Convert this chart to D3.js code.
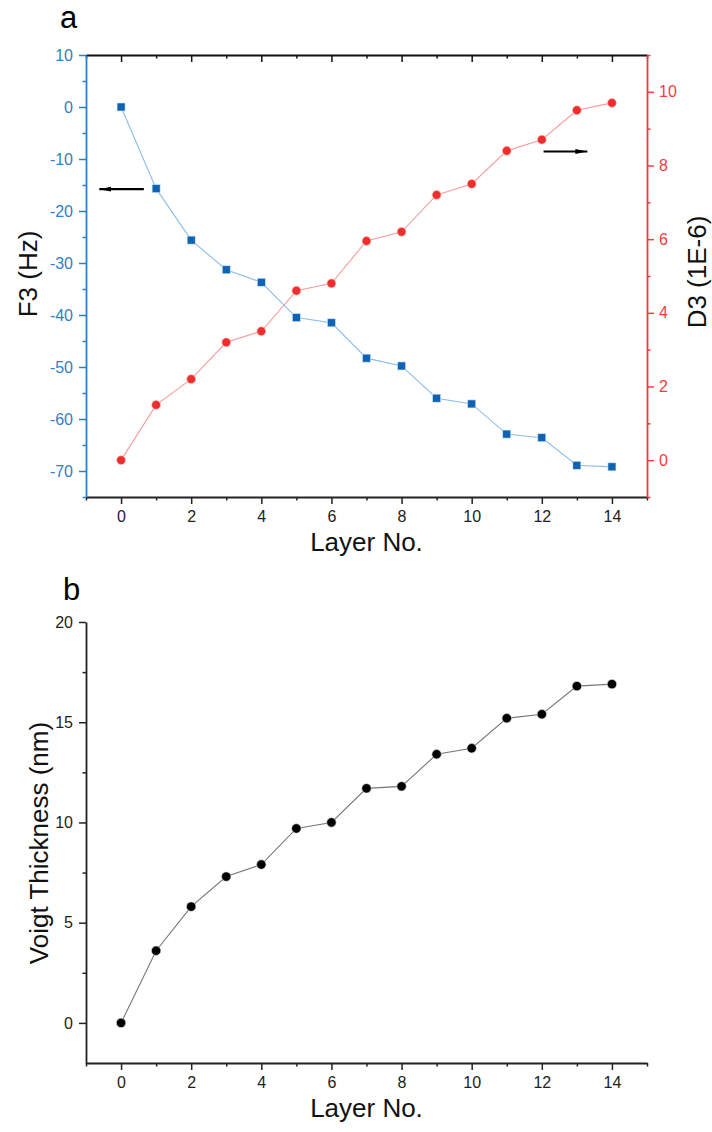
<!DOCTYPE html>
<html>
  <head>
    <meta charset="utf-8">
    <title>F3, D3 and Voigt thickness by layer</title>
    <script src="https://d3js.org/d3.v7.min.js"></script>
    <style>
      body { margin: 0; background: white; }
      svg { display: block; font-family: "Liberation Sans", Arial, sans-serif; }
    </style>
  </head>
  <body>
    <svg id="chart" width="712" height="1132"></svg>
    <script>
      // data
      const layers = [0, 1, 2, 3, 4, 5, 6, 7, 8, 9, 10, 11, 12, 13, 14];
      const f3 = [0, -15.7, -25.6, -31.3, -33.7, -40.5, -41.5, -48.3, -49.8, -56.0, -57.1, -62.9, -63.6, -68.9, -69.2];
      const d3Shift = [0, 1.5, 2.2, 3.2, 3.5, 4.6, 4.8, 5.95, 6.2, 7.2, 7.5, 8.4, 8.7, 9.5, 9.7];
      const thickness = [0, 3.6, 5.8, 7.3, 7.9, 9.7, 10.0, 11.7, 11.8, 13.4, 13.7, 15.2, 15.4, 16.8, 16.9];
      // ticks
      const xTicks = [0, 2, 4, 6, 8, 10, 12, 14];
      const xMinor = [-1, 1, 3, 5, 7, 9, 11, 13, 15];
      const f3Ticks = [-70, -60, -50, -40, -30, -20, -10, 0, 10];
      const f3Minor = [-75, -65, -55, -45, -35, -25, -15, -5, 5];
      const d3Ticks = [0, 2, 4, 6, 8, 10];
      const d3Minor = [-1, 1, 3, 5, 7, 9, 11];
      const thickTicks = [0, 5, 10, 15, 20];
      const thickMinor = [2.5, 7.5, 12.5, 17.5];

      const blue = "#2f80c8", blueMark = "#0f63b3", blueLine = "#8dbde6";
      const red = "#f23c3c", redMark = "#ee2e2e", redLine = "#f59c9c";

      svg = d3.select("#chart");
      top_ = { left: 86, right: 647, top: 55, bottom: 497 };
      bot = { left: 86, right: 647, top: 622, bottom: 1063 };

      // arrow marker
      svg.append("defs")
        .append("marker")
          .attr("id", "head")
          .attr("viewBox", "0 0 12 6")
          .attr("refX", 12)
          .attr("refY", 3)
          .attr("markerWidth", 12)
          .attr("markerHeight", 6)
          .attr("markerUnits", "userSpaceOnUse")
          .attr("orient", "auto")
        .append("path")
          .attr("d", "M0,0.6 L12,3 L0,5.4 Z")
          .attr("fill", "black");

      // draws one axis with major + minor ticks
      function drawAxis(g, maker, scale, ticks, minor, colour, labels, pad) {
        g.append("g")
          .call(maker(scale).tickValues(minor).tickSize(3.5).tickFormat(""))
          .call(s => s.select(".domain").remove())
          .selectAll("line").attr("stroke", colour).attr("stroke-width", 1.5);
        let major = g.append("g")
          .call(maker(scale).tickValues(ticks).tickSize(7).tickSizeOuter(0).tickPadding(pad)
            .tickFormat(labels ? (d => String(d)) : ""));
        major.attr("font-size", 16)
          .attr("font-family", "Liberation Sans, Arial, sans-serif");
        major.select(".domain").attr("stroke", colour).attr("stroke-width", 1.8);
        major.selectAll("line").attr("stroke", colour).attr("stroke-width", 1.5);
        major.selectAll("text")
          .attr("fill", colour)
          .style("font-size", "16px");
        return major;
      }

      // ---------- panel a ----------
      x = d3.scaleLinear().domain([-1, 15]).range([top_.left, top_.right]);
      yF = d3.scaleLinear().domain([-75, 10]).range([top_.bottom, top_.top]);
      yD = d3.scaleLinear().domain([-1, 11]).range([top_.bottom, top_.top]);

      // top mirror axis, ticks inward
      drawAxis(svg.append("g").attr("transform", "translate(0," + top_.top + ")"),
        d3.axisBottom, x, xTicks, xMinor, "#111", false, 0);
      drawAxis(svg.append("g").attr("transform", "translate(0," + top_.bottom + ")"),
        d3.axisBottom, x, xTicks, xMinor, "#222", true, 7);
      drawAxis(svg.append("g").attr("transform", "translate(" + top_.left + ",0)"),
        d3.axisLeft, yF, f3Ticks, f3Minor, blue, true, 6);
      drawAxis(svg.append("g").attr("transform", "translate(" + top_.right + ",0)"),
        d3.axisRight, yD, d3Ticks, d3Minor, red, true, 5);

      // lines
      svg.append("path")
        .datum(layers)
        .attr("fill", "none")
        .attr("stroke", redLine)
        .attr("stroke-width", 1.1)
        .attr("d", d3.line().x(d => x(d)).y((d, i) => yD(d3Shift[i])));
      svg.append("path")
        .datum(layers)
        .attr("fill", "none")
        .attr("stroke", blueLine)
        .attr("stroke-width", 1.1)
        .attr("d", d3.line().x(d => x(d)).y((d, i) => yF(f3[i])));

      // markers
      svg.append("g")
        .selectAll("circle")
          .data(layers)
        .enter().append("circle")
          .attr("cx", d => x(d))
          .attr("cy", (d, i) => yD(d3Shift[i]))
          .attr("r", 4.4)
          .attr("fill", redMark)
          .attr("stroke", "#fbb")
          .attr("stroke-width", 0.6);
      svg.append("g")
        .selectAll("rect")
          .data(layers)
        .enter().append("rect")
          .attr("x", d => x(d) - 4)
          .attr("y", (d, i) => yF(f3[i]) - 4)
          .attr("width", 8)
          .attr("height", 8)
          .attr("fill", blueMark)
          .attr("stroke", "#cfe3f5")
          .attr("stroke-width", 0.6);

      // arrows pointing at the axis each series belongs to
      svg.append("line")
        .attr("x1", x(0.65)).attr("x2", x(-0.62))
        .attr("y1", yF(-15.8)).attr("y2", yF(-15.8))
        .attr("stroke", "black").attr("stroke-width", 2.2)
        .attr("marker-end", "url(#head)");
      svg.append("line")
        .attr("x1", x(12.05)).attr("x2", x(13.3))
        .attr("y1", yD(8.38)).attr("y2", yD(8.38))
        .attr("stroke", "black").attr("stroke-width", 2.2)
        .attr("marker-end", "url(#head)");

      // titles
      svg.append("text")
        .attr("x", 60).attr("y", 28)
        .attr("font-size", 31)
        .text("a");
      svg.append("text")
        .attr("x", (top_.left + top_.right) / 2).attr("y", 551)
        .attr("text-anchor", "middle")
        .attr("font-size", 26)
        .attr("fill", "#111")
        .text("Layer No.");
      svg.append("text")
        .attr("transform", "translate(37,274) rotate(-90)")
        .attr("text-anchor", "middle")
        .attr("font-size", 26)
        .attr("fill", "#111")
        .text("F3 (Hz)");
      svg.append("text")
        .attr("transform", "translate(706,272) rotate(-90)")
        .attr("text-anchor", "middle")
        .attr("font-size", 26)
        .attr("fill", "#111")
        .text("D3 (1E-6)");

      // ---------- panel b ----------
      yT = d3.scaleLinear().domain([-2, 20]).range([bot.bottom, bot.top]);

      drawAxis(svg.append("g").attr("transform", "translate(0," + bot.bottom + ")"),
        d3.axisBottom, x, xTicks, xMinor, "#222", true, 7);
      drawAxis(svg.append("g").attr("transform", "translate(" + bot.left + ",0)"),
        d3.axisLeft, yT, thickTicks, thickMinor, "#222", true, 6);

      svg.append("path")
        .datum(layers)
        .attr("fill", "none")
        .attr("stroke", "#777")
        .attr("stroke-width", 1.1)
        .attr("d", d3.line().x(d => x(d)).y((d, i) => yT(thickness[i])));
      svg.append("g")
        .selectAll("circle")
          .data(layers)
        .enter().append("circle")
          .attr("cx", d => x(d))
          .attr("cy", (d, i) => yT(thickness[i]))
          .attr("r", 4.7)
          .attr("fill", "black")
          .attr("stroke", "#ddd")
          .attr("stroke-width", 0.6);

      svg.append("text")
        .attr("x", 63).attr("y", 600)
        .attr("font-size", 31)
        .text("b");
      svg.append("text")
        .attr("x", (bot.left + bot.right) / 2).attr("y", 1117)
        .attr("text-anchor", "middle")
        .attr("font-size", 26)
        .attr("fill", "#111")
        .text("Layer No.");
      svg.append("text")
        .attr("transform", "translate(48,843) rotate(-90)")
        .attr("text-anchor", "middle")
        .attr("font-size", 26)
        .attr("fill", "#111")
        .text("Voigt Thickness (nm)");
    </script>
  </body>
</html>
